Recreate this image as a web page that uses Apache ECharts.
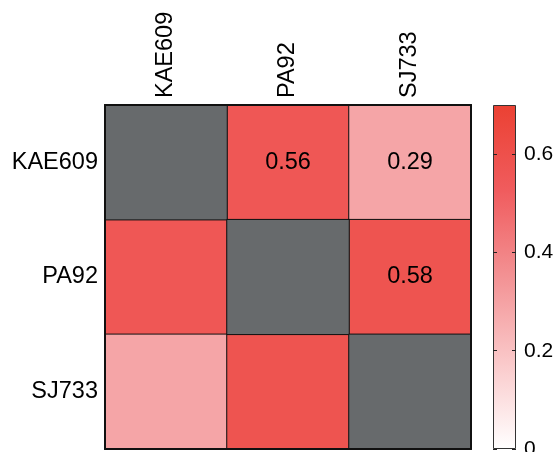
<!DOCTYPE html>
<html>
<head>
<meta charset="utf-8">
<script src="https://cdn.jsdelivr.net/npm/echarts@6/dist/echarts.min.js"></script>
<style>html,body{margin:0;padding:0;background:#fff}#c{width:556px;height:452px}</style>
</head>
<body>
<div id="c"></div>
<script>
const categories = ['KAE609', 'PA92', 'SJ733'];
// correlation matrix rows (y) x columns (x); diagonal masked (null)
const rowKAE609 = [null, 0.56, 0.29];
const rowPA92 = [0.56, null, 0.58];
const rowSJ733 = [0.29, 0.58, null];
const matrix = [rowKAE609, rowPA92, rowSJ733];
const colorbarTicks = [0, 0.2, 0.4, 0.6];
const colorMin = 0, colorMax = 0.7;
const colorStops = ['#ffffff', '#fac9ca', '#f39294', '#f05c5e', '#eb4133'];
const maskColor = '#676a6c';

const FONT = 'Liberation Sans';
const data = [];
const diag = [];
matrix.forEach((row, y) => row.forEach((v, x) => {
  if (v === null) diag.push([x, y, 1]);
  else data.push([x, y, v]);
}));

const chart = echarts.init(document.getElementById('c'));
chart.setOption({
  backgroundColor: '#fff',
  animation: false,
  grid: [
    {left: 105, top: 105, width: 366, height: 344, outerBoundsMode: 'none', containLabel: false},
    {left: 493, top: 105, width: 23, height: 344, outerBoundsMode: 'none', containLabel: false}
  ],
  xAxis: [
    {type: 'category', data: categories, position: 'top', gridIndex: 0, z: 5,
     axisLine: {show: true, lineStyle: {color: '#111', width: 2}},
     axisTick: {show: false}, splitLine: {show: false},
     axisLabel: {rotate: -90, fontFamily: FONT, fontSize: 23.5, color: '#000', margin: 7}},
    {type: 'category', data: categories, position: 'bottom', gridIndex: 0, z: 5,
     axisLine: {show: true, lineStyle: {color: '#111', width: 2}},
     axisTick: {show: false}, axisLabel: {show: false}},
    {type: 'category', data: [''], gridIndex: 1, show: false}
  ],
  yAxis: [
    {type: 'category', data: categories, inverse: true, gridIndex: 0, z: 5,
     axisLine: {show: true, lineStyle: {color: '#111', width: 2}},
     axisTick: {show: false}, splitLine: {show: false},
     axisLabel: {fontFamily: FONT, fontSize: 23.5, color: '#000', margin: 7}},
    {type: 'category', data: categories, inverse: true, gridIndex: 0, position: 'right', z: 5,
     axisLine: {show: true, lineStyle: {color: '#111', width: 2}},
     axisTick: {show: false}, axisLabel: {show: false}},
    {type: 'value', gridIndex: 1, position: 'right', min: colorMin, max: colorMax, interval: 0.2, z: 5,
     axisLine: {show: false},
     axisTick: {show: true, inside: true, length: 4, customValues: colorbarTicks, lineStyle: {color: '#222'}},
     splitLine: {show: false},
     axisLabel: {fontFamily: FONT, fontSize: 21, color: '#000', margin: 8, customValues: colorbarTicks,
       formatter: v => String(Math.round(v * 10) / 10)}},
    {type: 'value', gridIndex: 1, position: 'left', min: colorMin, max: colorMax, interval: 0.2, z: 5,
     axisLine: {show: false},
     axisTick: {show: true, inside: true, length: 4, customValues: colorbarTicks, lineStyle: {color: '#222'}},
     splitLine: {show: false}, axisLabel: {show: false}}
  ],
  visualMap: [
    {show: false, type: 'continuous', min: colorMin, max: colorMax, seriesIndex: 0,
     inRange: {color: colorStops}},
    {show: false, type: 'piecewise', seriesIndex: 1,
     pieces: [{min: 0.5, max: 1.5, color: maskColor}]}
  ],
  series: [
    {
      type: 'heatmap', xAxisIndex: 0, yAxisIndex: 0, data: data,
      itemStyle: {borderColor: '#111', borderWidth: 1},
      label: {
        show: true, fontFamily: FONT, fontSize: 23.5, color: '#000',
        formatter: p => (p.value[0] > p.value[1] ? p.value[2].toFixed(2) : '')
      },
      emphasis: {disabled: true}
    },
    {
      type: 'heatmap', xAxisIndex: 0, yAxisIndex: 0, data: diag,
      itemStyle: {borderColor: '#111', borderWidth: 1},
      label: {show: false},
      emphasis: {disabled: true}
    },
    {
      type: 'bar', xAxisIndex: 2, yAxisIndex: 2, barWidth: '100%', data: [colorMax], silent: true,
      itemStyle: {
        borderColor: '#333', borderWidth: 1,
        color: new echarts.graphic.LinearGradient(0, 1, 0, 0,
          colorStops.map((c, i) => ({offset: i / (colorStops.length - 1), color: c})))
      }
    }
  ]
});
</script>
</body>
</html>
